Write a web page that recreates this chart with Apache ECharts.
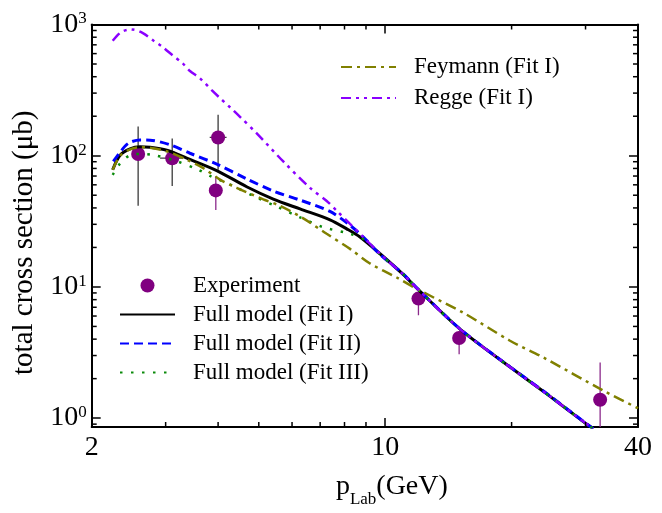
<!DOCTYPE html>
<html>
<head>
<meta charset="utf-8">
<script src="https://cdn.jsdelivr.net/npm/echarts@6/dist/echarts.min.js"></script>
<style>
html,body{margin:0;padding:0;background:#fff;}
#c{width:662px;height:513px;}
</style>
</head>
<body>
<div id="c"></div>
<script>
// ---------------- data ----------------
const xMin = 2, xMax = 40;
const yMin = 0.856, yMax = 1000;

const xMinorTicks = [3, 4, 5, 6, 7, 8, 9, 20, 30];
const yMinorTicks = [0.9, 2, 3, 4, 5, 6, 7, 8, 9, 20, 30, 40, 50, 60, 70, 80, 90, 200, 300, 400, 500, 600, 700, 800, 900];

// Experiment
const expX = [2.58, 3.11, 4.0, 3.95, 12.0, 15.0, 32.5];
const expY = [103, 95.7, 137.8, 54.4, 8.15, 4.08, 1.38];
const expErrLow = [41.6, 58.7, 78.2, 38.5, 6.07, 3.07, 0.5];
const expErrHigh = [167, 135.5, 205, 69.8, 9.0, 4.6, 2.65];
const expXErrLow = [2.58, 2.91, 3.82, 3.95, 12.0, 15.0, 32.5];
const expXErrHigh = [2.58, 3.30, 4.19, 3.95, 12.0, 15.0, 32.5];
const expSource = [0, 0, 0, 1, 1, 1, 1];

// Full model (Fit I)
const fit1X = [2.244, 2.336, 2.468, 2.607, 2.754, 3.018, 3.368, 3.970, 4.678, 5.414, 6.268, 7.388, 8.098, 8.710, 9.720, 11.05, 11.99, 15.07, 19.83, 24.25, 29.64, 31.30];
const fit1Y = [78.2, 100.9, 112.9, 116.9, 116, 110, 95.8, 77.1, 58.0, 46.7, 39.3, 32.5, 27.7, 24.0, 17.9, 12.4, 9.53, 4.77, 2.45, 1.53, 0.941, 0.83];

// Full model (Fit II)
const fit2X = [2.252, 2.336, 2.444, 2.607, 2.754, 3.074, 3.428, 3.970, 4.678, 5.414, 6.268, 7.388, 8.168, 8.868, 9.720, 11.05, 11.99, 15.07, 19.83, 24.25, 29.64, 31.30];
const fit2Y = [90.4, 106.2, 124.2, 131.9, 131.4, 121, 104.4, 86.3, 66.6, 53.8, 45.9, 37.6, 30.2, 24.0, 17.7, 12.5, 9.58, 4.79, 2.46, 1.54, 0.945, 0.83];

// Full model (Fit III)
const fit3X = [2.244, 2.336, 2.468, 2.631, 2.804, 3.188, 3.588, 3.826, 4.349, 4.944, 5.516, 6.268, 7.122, 8.246, 9.036, 9.720, 11.05, 11.99, 15.07, 19.83, 24.25, 29.64, 31.30];
const fit3Y = [71.4, 87.1, 100.9, 103.2, 101.4, 90.9, 78.2, 70.2, 58.7, 47.9, 41.0, 33.9, 28.5, 25.4, 22.4, 17.7, 12.5, 9.53, 4.77, 2.45, 1.53, 0.941, 0.83];

// Feymann (Fit I)
const feyX = [2.244, 2.336, 2.468, 2.607, 2.754, 3.018, 3.368, 3.688, 4.043, 4.428, 5.126, 5.618, 6.382, 7.256, 8.246, 9.2, 10.65, 11.99, 15.35, 19.83, 23.80, 33.08, 40];
const feyY = [78.2, 100, 111.9, 116, 114.9, 108.1, 93.3, 80.5, 65.8, 56.9, 46.5, 41.5, 33.3, 25.4, 19.5, 15.1, 11.8, 9.53, 6.35, 3.89, 2.90, 1.62, 1.19];

// Regge (Fit I)
const regX = [2.244, 2.336, 2.428, 2.504, 2.654, 2.804, 2.936, 3.102, 3.294, 3.428, 3.622, 3.862, 4.043, 4.270, 4.51, 4.944, 5.718, 6.622, 7.256, 7.664, 8.246, 8.868, 9.720, 11.05, 11.99, 15.07, 19.83, 24.25, 29.64, 31.30];
const regY = [751, 863, 909, 914, 856, 755, 681, 590, 505, 442, 389, 316, 275, 234, 198, 148, 90.4, 56.9, 45.2, 38.1, 30.2, 24.0, 17.9, 12.4, 9.53, 4.77, 2.45, 1.53, 0.941, 0.83];

// ---------------- chart ----------------
const FONT = '"Liberation Serif", "Times New Roman", Times, serif';
const pairs = (xs, ys) => xs.map((x, i) => [x, ys[i]]);

const chart = echarts.init(document.getElementById('c'), null, { renderer: 'canvas' });

const axisLineStyle = { show: true, lineStyle: { color: '#000', width: 2 } };
const majorTick = { show: true, inside: true, length: 9, lineStyle: { color: '#000', width: 1.5 } };

const errData = expX.map((x, i) => [x, expY[i], expErrLow[i], expErrHigh[i], expXErrLow[i], expXErrHigh[i], expSource[i]]);
const tickData = xMinorTicks.map(v => [v, 1, 0]).concat(yMinorTicks.map(v => [2, v, 1]));

const lineSeries = (name, xs, ys, color, width, dash) => ({
  type: 'line', name, data: pairs(xs, ys), symbol: 'none', smooth: 0.3,
  lineStyle: { color, width, type: dash || 'solid' }, itemStyle: { color },
  clip: true, silent: true, animation: false
});

const legendText = { fontFamily: FONT, fontSize: 23, color: '#000', lineHeight: 22, padding: [0, 0, 0, 13] };

const option = {
  animation: false,
  backgroundColor: '#fff',
  grid: { left: 91.7, right: 24, top: 24.5, bottom: 80.5, containLabel: false },
  xAxis: [
    {
      type: 'log', logBase: 10, min: xMin, max: xMax, position: 'bottom',
      axisLine: axisLineStyle, axisTick: majorTick, splitLine: { show: false },
      minorTick: { show: false },
      axisLabel: {
        margin: 7, color: '#000', fontFamily: FONT, fontSize: 28,
        formatter: v => { const r = Math.round(v); return Math.abs(v - r) < 1e-6 ? String(r) : ''; }
      },
      name: '{a|p}{s|Lab}{a|(GeV)}', nameLocation: 'middle', nameGap: 46,
      nameTextStyle: {
        color: '#000', fontFamily: FONT, fontSize: 28, padding: [0, 0, 0, 54],
        rich: {
          a: { fontFamily: FONT, fontSize: 28, lineHeight: 28, color: '#000', verticalAlign: 'top' },
          s: { fontFamily: FONT, fontSize: 17, lineHeight: 17, color: '#000', verticalAlign: 'top', padding: [18, 0, 0, 0] }
        }
      }
    },
    {
      type: 'log', logBase: 10, min: xMin, max: xMax, position: 'top',
      axisLine: axisLineStyle, axisTick: majorTick, axisLabel: { show: false }, splitLine: { show: false }
    }
  ],
  yAxis: [
    {
      type: 'log', logBase: 10, min: yMin, max: yMax, position: 'left',
      axisLine: axisLineStyle, axisTick: majorTick, splitLine: { show: false },
      axisLabel: {
        margin: 5, color: '#000', fontFamily: FONT, fontSize: 28,
        formatter: v => {
          const e = Math.round(Math.log10(v));
          if (Math.abs(v - Math.pow(10, e)) > 1e-6 * v) return '';
          return '{b|10}{s|' + e + '}';
        },
        rich: {
          b: { fontFamily: FONT, fontSize: 28, lineHeight: 28, color: '#000', verticalAlign: 'middle' },
          s: { fontFamily: FONT, fontSize: 17, lineHeight: 17, color: '#000', verticalAlign: 'top' }
        }
      },
      name: 'total cross section (μb)', nameLocation: 'middle', nameGap: 50, nameRotate: 90,
      nameTextStyle: { color: '#000', fontFamily: FONT, fontSize: 29, padding: [0, 34, 0, 0] }
    },
    {
      type: 'log', logBase: 10, min: yMin, max: yMax, position: 'right',
      axisLine: axisLineStyle, axisTick: majorTick, axisLabel: { show: false }, splitLine: { show: false }
    }
  ],
  legend: [
    {
      data: ['Feymann (Fit I)', 'Regge (Fit I)'],
      orient: 'vertical', left: 335, top: 50.5, itemWidth: 55, itemHeight: 14, itemGap: 8,
      selectedMode: false,
      itemStyle: { opacity: 0 },
      textStyle: legendText
    },
    {
      data: [
        { name: 'Experiment', itemStyle: { opacity: 1 } },
        'Full model (Fit I)', 'Full model (Fit II)', 'Full model (Fit III)'
      ],
      orient: 'vertical', left: 114, top: 269, itemWidth: 55, itemHeight: 14, itemGap: 6,
      selectedMode: false,
      itemStyle: { opacity: 0 },
      textStyle: legendText
    }
  ],
  series: [
    {
      type: 'custom', name: 'errorbars', data: errData, clip: true, silent: true,
      encode: { x: 0, y: 1 },
      renderItem: (params, api) => {
        const x = api.value(0), y = api.value(1), lo = api.value(2), hi = api.value(3);
        const xl = api.value(4), xh = api.value(5), src = api.value(6);
        const color = src === 1 ? '#8b2a8b' : '#3a3a3a';
        const p0 = api.coord([x, lo]), p1 = api.coord([x, hi]);
        const children = [{ type: 'line', shape: { x1: p0[0], y1: p0[1], x2: p1[0], y2: p1[1] }, style: { stroke: color, lineWidth: 1.3 } }];
        if (xl !== xh) {
          const q0 = api.coord([xl, y]), q1 = api.coord([xh, y]);
          children.push({ type: 'line', shape: { x1: q0[0], y1: q0[1], x2: q1[0], y2: q1[1] }, style: { stroke: color, lineWidth: 1.3 } });
        }
        return { type: 'group', children };
      }
    },
    {
      type: 'scatter', name: 'Experiment', data: pairs(expX, expY), symbol: 'circle', symbolSize: 14,
      itemStyle: { color: '#800080', opacity: 1 }, silent: true
    },
    lineSeries('Full model (Fit I)', fit1X, fit1Y, '#000000', 3),
    lineSeries('Full model (Fit II)', fit2X, fit2Y, '#0000ff', 3, [9, 5]),
    lineSeries('Full model (Fit III)', fit3X, fit3Y, '#0a8a0a', 2.5, [2.5, 8.5]),
    lineSeries('Feymann (Fit I)', feyX, feyY, '#808000', 2.5, [11, 5, 3, 5]),
    lineSeries('Regge (Fit I)', regX, regY, '#8a00ff', 2.5, [10, 5, 3, 5, 3, 5]),
    {
      type: 'custom', name: 'minorTicks', data: tickData, silent: true, z: 10,
      encode: { x: 0, y: 1 },
      renderItem: (params, api) => {
        const cs = params.coordSys;
        const st = { stroke: '#000', lineWidth: 1.5 };
        if (api.value(2) === 0) {
          const px = api.coord([api.value(0), 1])[0];
          return { type: 'group', children: [
            { type: 'line', shape: { x1: px, y1: cs.y + cs.height, x2: px, y2: cs.y + cs.height - 5 }, style: st },
            { type: 'line', shape: { x1: px, y1: cs.y, x2: px, y2: cs.y + 5 }, style: st }
          ] };
        }
        const py = api.coord([2, api.value(1)])[1];
        return { type: 'group', children: [
          { type: 'line', shape: { x1: cs.x, y1: py, x2: cs.x + 5, y2: py }, style: st },
          { type: 'line', shape: { x1: cs.x + cs.width, y1: py, x2: cs.x + cs.width - 5, y2: py }, style: st }
        ] };
      }
    }
  ]
};

chart.setOption(option);
</script>
</body>
</html>
